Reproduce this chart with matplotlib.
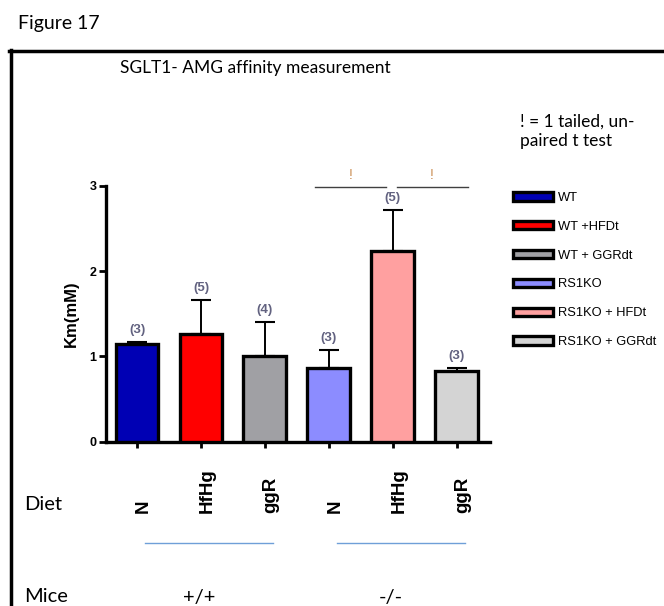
import matplotlib
matplotlib.use("Agg")
import matplotlib.pyplot as plt
from matplotlib.lines import Line2D

# ---- data ----
groups = ["WT", "WT +HFDt", "WT + GGRdt", "RS1KO", "RS1KO + HFDt", "RS1KO + GGRdt"]
km_means = [1.15, 1.26, 1.00, 0.86, 2.23, 0.83]
km_sem = [0.02, 0.40, 0.40, 0.21, 0.48, 0.03]
n_labels = ["(3)", "(5)", "(4)", "(3)", "(5)", "(3)"]
diet_labels = ["N", "HfHg", "ggR", "N", "HfHg", "ggR"]
mice_labels = ["+/+", "-/-"]
yticks = [0, 1, 2, 3]
sig_pairs = [(3, 4), (4, 5)]
sig_marks = ["!", "!"]
bar_colors = ["#0000b4", "#ff0000", "#a0a0a4", "#8c8cff", "#ffa0a0", "#d4d4d4"]

W, H = 664, 606
fig = plt.figure(figsize=(W / 100, H / 100), dpi=100)
ARIAL = "Liberation Sans"
CAL = "Lato"

def fx(px):
    return px / W

def fy(py):
    return 1 - py / H

ax = fig.add_axes([fx(105.7), fy(441.7), fx(490) - fx(105.7), fy(185.7) - fy(441.7)])
x = list(range(len(groups)))
bars = ax.bar(x, km_means, width=0.67, color=bar_colors, edgecolor="black",
              linewidth=2.4, zorder=3, label=None)
ax.errorbar(x, km_means, yerr=[[0] * len(x), km_sem], fmt="none", ecolor="black",
            elinewidth=1.4, capsize=7, capthick=1.5, zorder=2)
for xi, m, e, lab in zip(x, km_means, km_sem, n_labels):
    ax.annotate(lab, (xi, m + e), xytext=(0, 4.5), textcoords="offset points",
                ha="center", va="bottom", fontsize=9.5, fontweight="bold",
                color="#626280", family=ARIAL)

ax.set_xlim(-0.49, 5.52)
ax.set_ylim(0, 3)
ax.set_yticks(yticks)
ax.set_yticklabels([str(t) for t in yticks], fontsize=9, fontweight="bold", family=ARIAL)
ax.set_xticks(x)
ax.set_xticklabels([])
ax.tick_params(axis="y", direction="out", length=5, width=2, pad=1.5)
ax.tick_params(axis="x", direction="out", length=4, width=2)
for s in ["top", "right"]:
    ax.spines[s].set_visible(False)
for s in ["left", "bottom"]:
    ax.spines[s].set_linewidth(2.4)
ax.set_ylabel("Km(mM)", fontsize=12, fontweight="bold", family=ARIAL, labelpad=8)
ax.patch.set_alpha(0)

# significance lines
offsets = [(-0.22, -0.11), (0.06, 0.17)]
for (a, b), (o0, o1), mk in zip(sig_pairs, offsets, sig_marks):
    x0, x1 = a + o0, b + o1
    ax.plot([x0, x1], [2.99, 2.99], color="#404040", lw=1.0, clip_on=False)
    ax.text((x0 + x1) / 2, 3.04, mk, ha="center", va="bottom", fontsize=10,
            color="#c8884a", family=ARIAL, clip_on=False)

# legend
leg = ax.legend(bars, groups, loc="upper left", bbox_to_anchor=(fx(513), fy(192)),
                bbox_transform=fig.transFigure, frameon=False, borderpad=0,
                borderaxespad=0, handlelength=3.1, handleheight=0.6,
                handletextpad=0.35, labelspacing=1.3,
                prop={"family": ARIAL, "size": 9.3})

# note
fig.text(fx(520), fy(131), "! = 1 tailed, un-\npaired t test", ha="left", va="center",
         fontsize=12.5, family=CAL, linespacing=1.25)

# outer frame
fig.add_artist(Line2D([fx(10.5), fx(10.5)], [fy(50), 0], color="black", lw=2.5))
fig.add_artist(Line2D([fx(9.3), 1], [fy(50.5), fy(50.5)], color="black", lw=2.5))

fig.text(fx(18), fy(24), "Figure 17", ha="left", va="center", fontsize=14, family=CAL)
fig.text(fx(255), fy(68), "SGLT1- AMG affinity measurement", ha="center", va="center",
         fontsize=12.5, family=CAL)

# Diet row
fig.text(fx(24), fy(505), "Diet", ha="left", va="center", fontsize=14.5, family=CAL)
for xi, lab in zip(x, diet_labels):
    xp = ax.transData.transform((xi, 0))[0]
    fig.text(xp / W + fx(6), fy(513), lab, rotation=90, ha="center", va="bottom",
             fontsize=13.5, fontweight="bold", family=ARIAL)

# group lines and Mice row
fig.text(fx(24), fy(597), "Mice", ha="left", va="center", fontsize=14.5, family=CAL)
for gi, lab in enumerate(mice_labels):
    idx = [3 * gi, 3 * gi + 2]
    xa = ax.transData.transform((idx[0], 0))[0] + 8
    xb = ax.transData.transform((idx[1], 0))[0] + 8
    fig.add_artist(Line2D([xa / W, xb / W], [fy(542.7), fy(542.7)], color="#6f9fd8", lw=1.0))
    fig.text((xa + xb) / 2 / W - fx(10), fy(597), lab, ha="center", va="center",
             fontsize=14.5, family=CAL)

fig.savefig("out.png", dpi=100)
